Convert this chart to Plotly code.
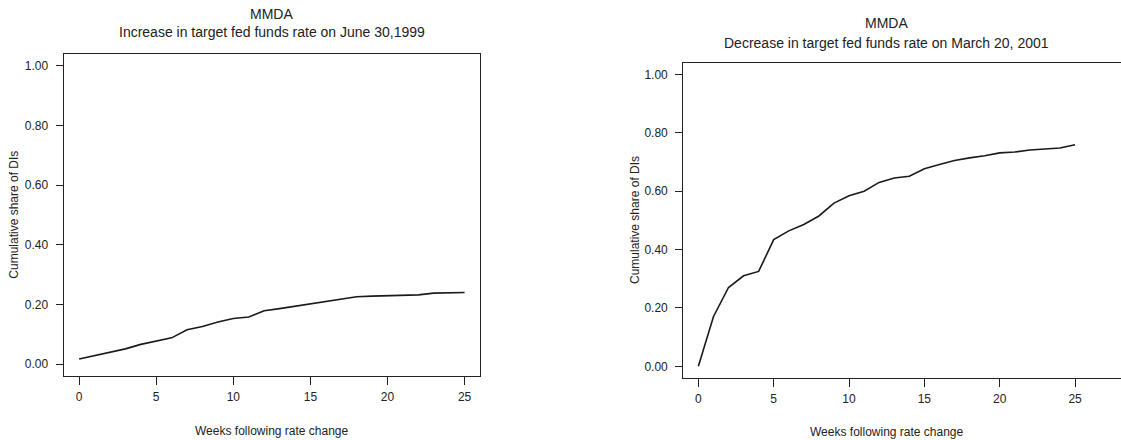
import plotly.graph_objects as go

W, H = 1121, 440

weeks = list(range(26))
increase_1999 = [0.017, 0.028, 0.041, 0.051, 0.066, 0.076, 0.088, 0.115, 0.126, 0.141,
                 0.153, 0.158, 0.179, 0.186, 0.194, 0.204, 0.211, 0.218, 0.226, 0.228,
                 0.230, 0.232, 0.232, 0.238, 0.239, 0.240]
decrease_2001 = [0.000, 0.170, 0.270, 0.310, 0.325, 0.434, 0.464, 0.486, 0.515, 0.559,
                 0.584, 0.600, 0.630, 0.645, 0.651, 0.677, 0.691, 0.705, 0.714, 0.721,
                 0.731, 0.734, 0.741, 0.744, 0.748, 0.759]

title_main = "MMDA"
subtitle_left = "Increase in target fed funds rate on June 30,1999"
subtitle_right = "Decrease in target fed funds rate on March 20, 2001"
x_title = "Weeks following rate change"
y_title = "Cumulative share of DIs"
x_ticks = [0, 5, 10, 15, 20, 25]
y_ticks = [0.0, 0.2, 0.4, 0.6, 0.8, 1.0]

FONT = "Liberation Sans, Arial, Helvetica, sans-serif"
INK = "#222222"

def px(x):
    return x / W

def py(y):
    return 1 - y / H

fig = go.Figure()
fig.add_trace(go.Scatter(x=weeks, y=increase_1999, mode="lines",
                         line=dict(color="#1a1a1a", width=1.6),
                         xaxis="x", yaxis="y", showlegend=False))
fig.add_trace(go.Scatter(x=weeks, y=decrease_2001, mode="lines",
                         line=dict(color="#1a1a1a", width=1.6),
                         xaxis="x2", yaxis="y2", showlegend=False))

common_x = dict(tickmode="array", tickvals=x_ticks, ticks="outside", ticklen=8,
                tickwidth=1, tickcolor=INK, showline=True, linecolor=INK, linewidth=1.2,
                showgrid=False, zeroline=False, ticklabelstandoff=1,
                tickfont=dict(family=FONT, size=12, color=INK))
common_y = dict(tickmode="array", tickvals=y_ticks, tickformat=".2f", ticks="outside",
                ticklen=7, tickwidth=1, tickcolor=INK, showline=True, linecolor=INK,
                linewidth=1.2, showgrid=False, zeroline=False, ticklabelstandoff=5,
                tickfont=dict(family=FONT, size=12, color=INK))

fig.update_layout(
    width=W, height=H,
    margin=dict(l=0, r=0, t=0, b=0),
    paper_bgcolor="white", plot_bgcolor="white",
    xaxis=dict(domain=[px(63.7), px(480)], range=[-1.0, 26.0], mirror=True,
               anchor="y", **common_x),
    yaxis=dict(domain=[py(376), py(54)], range=[-0.04, 1.04], mirror=True,
               anchor="x", **common_y),
    xaxis2=dict(domain=[px(683.3), 1.0], range=[-1.0, 28.05], mirror=True,
                anchor="y2", **common_x),
    yaxis2=dict(domain=[py(378), py(62.7)], range=[-0.04, 1.04], mirror=False,
                anchor="x2", **common_y),
)

ann = []
def text(x, y, s, size, angle=0):
    ann.append(dict(x=px(x), y=py(y), xref="paper", yref="paper", text=s,
                    showarrow=False, xanchor="center", yanchor="middle",
                    textangle=angle, font=dict(family=FONT, size=size, color=INK)))

text(271.9, 14, title_main, 14)
text(271.9, 32.3, subtitle_left, 14)
text(886.7, 23.3, title_main, 14)
text(886.7, 42.7, subtitle_right, 14)
text(271.9, 430.7, x_title, 12)
text(886.7, 431.7, x_title, 12)
text(13.7, 215, y_title, 12, -90)
text(635, 220, y_title, 12, -90)
fig.update_layout(annotations=ann)

fig.write_html("out.html")
